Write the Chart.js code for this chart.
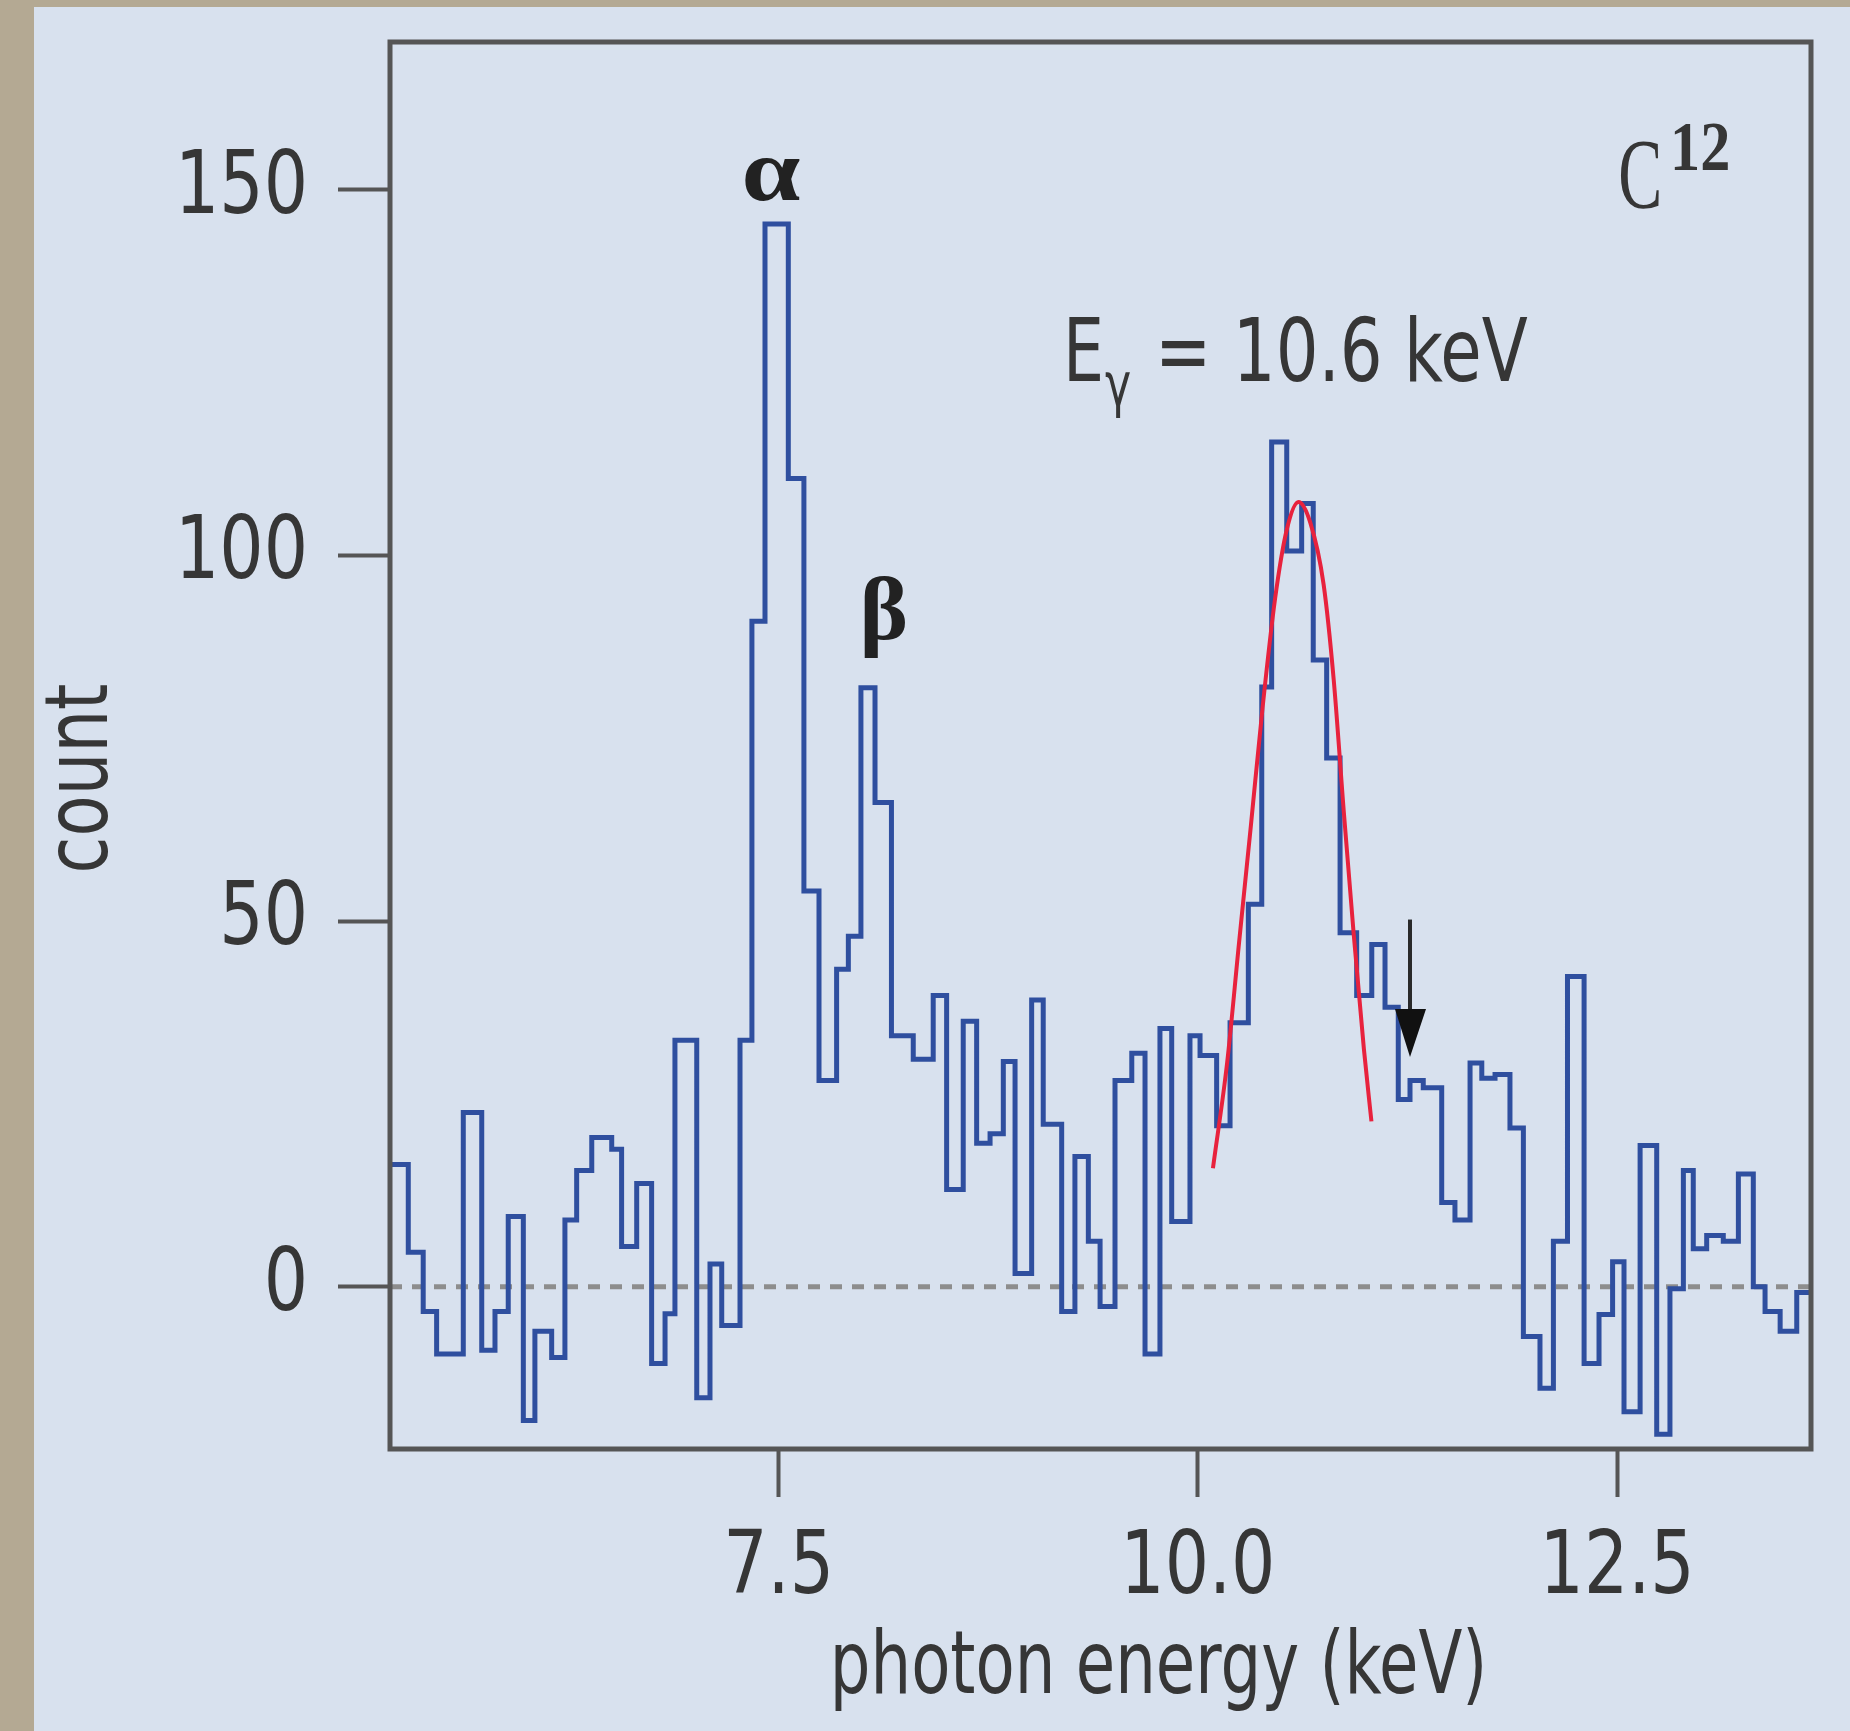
<!DOCTYPE html>
<html>
<head>
<meta charset="utf-8">
<title>C12 photon energy spectrum</title>
<script src="https://cdn.jsdelivr.net/npm/chart.js@4/dist/chart.umd.min.js"></script>
<style>
  html, body { margin: 0; padding: 0; }
  body { width: 1850px; height: 1731px; background: #b4a993; position: relative; overflow: hidden; }
  #panel { position: absolute; left: 34px; top: 7px; right: 0; bottom: 0; background: #d8e1ee; }
  #chart { position: absolute; left: 0; top: 0; }
</style>
</head>
<body>
<div id="panel"></div>
<canvas id="chart" width="1850" height="1731"></canvas>
<script>
/* ---------------------------- DATA ---------------------------- */
// left edge of each histogram bin, keV
const binStart = [
  5.183, 5.292, 5.381, 5.461, 5.620, 5.730, 5.809, 5.888, 5.978, 6.047,
  6.147, 6.226, 6.296, 6.386, 6.505, 6.564, 6.654, 6.743, 6.823, 6.882,
  7.012, 7.091, 7.161, 7.270, 7.341, 7.419, 7.558, 7.651, 7.741, 7.846,
  7.916, 7.991, 8.075, 8.173, 8.303, 8.422, 8.502, 8.601, 8.681, 8.761,
  8.840, 8.910, 9.009, 9.078, 9.188, 9.267, 9.347, 9.417, 9.506, 9.606,
  9.685, 9.774, 9.844, 9.953, 10.013, 10.112, 10.192, 10.301, 10.381, 10.440,
  10.530, 10.619, 10.688, 10.768, 10.848, 10.947, 11.037, 11.116, 11.195, 11.265,
  11.344, 11.454, 11.533, 11.623, 11.693, 11.772, 11.861, 11.941, 12.040, 12.120,
  12.204, 12.303, 12.392, 12.473, 12.541, 12.637, 12.736, 12.815, 12.895, 12.954,
  13.034, 13.133, 13.223, 13.312, 13.382, 13.472, 13.571
];
const binEnd = 13.656;
// counts in each bin
const counts = [
  16.7, 4.7, -3.4, -9.2, 23.8, -8.7, -3.4, 9.6, -18.3, -6.1,
  -9.7, 9.1, 15.9, 20.4, 18.8, 5.5, 14.1, -10.5, -3.7, 33.7,
  -15.2, 3.1, -5.3, 33.7, 91.0, 145.3, 110.5, 54.1, 28.2, 43.4,
  47.9, 81.9, 66.2, 34.3, 31.1, 39.8, 13.3, 36.3, 19.6, 20.9,
  30.8, 1.8, 39.2, 22.2, -3.4, 17.8, 6.2, -2.7, 28.2, 31.9,
  -9.2, 35.3, 8.9, 34.3, 31.6, 22.0, 36.1, 52.3, 82.0, 115.5,
  100.6, 107.1, 85.7, 72.3, 48.4, 39.8, 46.8, 38.2, 25.6, 28.2,
  27.2, 11.5, 9.1, 30.6, 28.5, 29.0, 21.7, -6.8, -13.9, 6.2,
  42.4, -10.5, -3.8, 3.4, -17.1, 19.3, -20.2, -0.3, 15.9, 5.2,
  7.0, 6.2, 15.4, 0, -3.4, -6.1, -0.8
];
// red fit curve
const fitEnergy = [10.09, 10.175, 10.245, 10.316, 10.386, 10.46, 10.53, 10.60, 10.67, 10.75, 10.81, 10.87, 10.93, 10.99, 11.035];
const fitCount  = [16.2, 30.7, 46.9, 63.0, 79.2, 94.0, 103.5, 107.3, 104.5, 96.0, 83.0, 65.0, 48.0, 32.5, 22.6];

const xTickValues = [7.5, 10.0, 12.5];
const xTickLabels = ["7.5", "10.0", "12.5"];
const yTickValues = [0, 50, 100, 150];
const yTickLabels = ["0", "50", "100", "150"];

const xTitle = "photon energy (keV)";
const yTitle = "count";

/* ---------------------------- STYLE ---------------------------- */
// the original lettering is a condensed grotesque: condensed DejaVu squeezed a bit more
const SANS = "'DejaVu Sans Condensed', 'DejaVu Sans', sans-serif";
const SERIF = "'Liberation Serif', 'DejaVu Serif', serif";
const SQUEEZE = 0.82;
const DIGIT_SQUEEZE = 0.88;
const TEXT = "#363636";
const AXIS = "#555555";
const BLUE = "#2f4f9f";
const RED = "#e8223d";

const histPoints = binStart.map((e, i) => ({ x: e, y: counts[i] }))
  .concat([{ x: binEnd, y: counts[counts.length - 1] }]);
const fitPoints = fitEnergy.map((e, i) => ({ x: e, y: fitCount[i] }));

// text drawn with a horizontal squeeze
function squeezed(ctx, text, x, y, sx, align, baseline, rot) {
  ctx.save();
  ctx.translate(x, y);
  if (rot) ctx.rotate(rot);
  ctx.scale(sx, 1);
  ctx.textAlign = align || "left";
  ctx.textBaseline = baseline || "alphabetic";
  ctx.fillText(text, 0, 0);
  ctx.restore();
}

/* ---------------------------- DECORATION PLUGIN ---------------------------- */
const decor = {
  id: "decor",
  beforeDatasetsDraw(chart) {
    const { ctx, chartArea: a, scales: { y } } = chart;
    const y0 = y.getPixelForValue(0);
    ctx.save();
    ctx.strokeStyle = "#8d8d8d";
    ctx.lineWidth = 5;
    ctx.setLineDash([12, 10]);
    ctx.beginPath();
    ctx.moveTo(a.left, y0);
    ctx.lineTo(a.right, y0);
    ctx.stroke();
    ctx.restore();
  },
  afterDatasetsDraw(chart) {
    const { ctx, chartArea: a, scales: { x, y } } = chart;
    ctx.save();

    // frame
    ctx.strokeStyle = AXIS;
    ctx.lineWidth = 5;
    ctx.strokeRect(a.left, a.top, a.right - a.left, a.bottom - a.top);

    // arrow marker
    const ax = x.getPixelForValue(11.265);
    const aTop = y.getPixelForValue(50.2);
    const aTip = y.getPixelForValue(31.4);
    ctx.strokeStyle = "#2a2a2a";
    ctx.fillStyle = "#111";
    ctx.lineWidth = 4;
    ctx.beginPath();
    ctx.moveTo(ax, aTop);
    ctx.lineTo(ax, aTip - 30);
    ctx.stroke();
    ctx.beginPath();
    ctx.moveTo(ax, aTip);
    ctx.lineTo(ax - 15, aTip - 48);
    ctx.lineTo(ax + 16, aTip - 48);
    ctx.closePath();
    ctx.fill();

    // tick labels
    ctx.fillStyle = TEXT;
    ctx.font = "88px " + SANS;
    yTickValues.forEach((v, i) => {
      squeezed(ctx, yTickLabels[i], a.left - 52 - 30, y.getPixelForValue(v), DIGIT_SQUEEZE, "right", "middle");
    });
    xTickValues.forEach((v, i) => {
      squeezed(ctx, xTickLabels[i], x.getPixelForValue(v), a.bottom + 144, DIGIT_SQUEEZE, "center");
    });

    // axis titles
    squeezed(ctx, xTitle, x.getPixelForValue(7.5) + 380, chart.height - 38, 0.81, "center");
    squeezed(ctx, yTitle, 107, (a.top + a.bottom) / 2 + 33, 0.85, "center", "alphabetic", -Math.PI / 2);

    // E_gamma label
    ctx.font = "88px " + SANS;
    squeezed(ctx, "E", x.getPixelForValue(9.196), y.getPixelForValue(123.8), SQUEEZE);
    ctx.font = "60px " + SANS;
    squeezed(ctx, "γ", x.getPixelForValue(9.446), y.getPixelForValue(120.6), SQUEEZE);
    ctx.font = "88px " + SANS;
    squeezed(ctx, "= 10.6 keV", x.getPixelForValue(9.745), y.getPixelForValue(123.8), 0.85);

    // peak labels
    ctx.fillStyle = "#222";
    ctx.font = "bold 88px " + SERIF;
    squeezed(ctx, "α", x.getPixelForValue(7.455), y.getPixelForValue(148.6), 1.2, "center");
    squeezed(ctx, "β", x.getPixelForValue(8.128), y.getPixelForValue(88.6), 1.05, "center");

    // C12 tag
    ctx.fillStyle = TEXT;
    ctx.font = "100px " + SERIF;
    squeezed(ctx, "C", x.getPixelForValue(12.506), y.getPixelForValue(147.7), 0.66);
    ctx.font = "bold 70px " + SERIF;
    squeezed(ctx, "12", x.getPixelForValue(12.816), y.getPixelForValue(152.7), 0.86);

    ctx.restore();
  }
};

/* ---------------------------- CHART ---------------------------- */
new Chart(document.getElementById("chart").getContext("2d"), {
  type: "line",
  data: {
    datasets: [
      {
        label: "fit",
        data: fitPoints,
        borderColor: RED,
        borderWidth: 4,
        pointRadius: 0,
        fill: false,
        cubicInterpolationMode: "monotone",
        order: 0
      },
      {
        label: "counts",
        data: histPoints,
        stepped: "before",
        borderColor: BLUE,
        borderWidth: 5,
        pointRadius: 0,
        fill: false,
        order: 1
      }
    ]
  },
  options: {
    responsive: false,
    animation: false,
    layout: { padding: { left: 0, top: 42, right: 39, bottom: 0 } },
    plugins: { legend: { display: false }, tooltip: { enabled: false } },
    scales: {
      x: {
        type: "linear",
        min: 5.183,
        max: 13.656,
        afterBuildTicks: (s) => { s.ticks = xTickValues.map(v => ({ value: v })); },
        afterFit: (s) => { s.height = 282; s.paddingLeft = 0; s.paddingRight = 0; },
        ticks: { display: false, autoSkip: false },
        grid: { drawOnChartArea: false, drawTicks: true, tickLength: 48, tickColor: AXIS, tickWidth: 4 },
        border: { display: false }
      },
      y: {
        min: -22.2,
        max: 170.2,
        afterBuildTicks: (s) => { s.ticks = yTickValues.map(v => ({ value: v })); },
        afterFit: (s) => { s.width = 390; s.paddingTop = 0; s.paddingBottom = 0; },
        ticks: { display: false, autoSkip: false },
        grid: { drawOnChartArea: false, drawTicks: true, tickLength: 52, tickColor: AXIS, tickWidth: 4 },
        border: { display: false }
      }
    }
  },
  plugins: [decor]
});
</script>
</body>
</html>
